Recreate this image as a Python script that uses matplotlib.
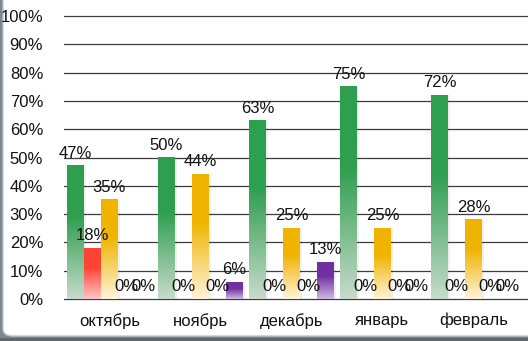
import matplotlib
matplotlib.use('Agg')
import matplotlib.pyplot as plt
import numpy as np
from matplotlib.colors import LinearSegmentedColormap
from matplotlib.patches import FancyBboxPatch, Rectangle

plt.rcParams['font.family'] = ['Liberation Sans', 'DejaVu Sans']

# data
months = ['октябрь', 'ноябрь', 'декабрь', 'январь', 'февраль']
green = [47, 50, 63, 75, 72]
red = [18, 0, 0, 0, 0]
yellow = [35, 44, 25, 25, 28]
empty = [0, 0, 0, 0, 0]
purple = [0, 6, 13, 0, 0]
y_ticks = [0, 10, 20, 30, 40, 50, 60, 70, 80, 90, 100]

# (top colour, bottom colour) for each series
series = [
    (green, '#2e9e4f', '#c8dbcb'),
    (red, '#ff4334', '#ffc6c6'),
    (yellow, '#f0b400', '#fff4da'),
    (empty, '#9dc3e6', '#e6f0fa'),
    (purple, '#7030a0', '#cfb8e3'),
]

W, H = 528, 341
fig = plt.figure(figsize=(W / 100, H / 100), dpi=100)
fig.patch.set_facecolor('#7d868c')

# white chart area with rounded corner, clipped by the figure edge
box = FancyBboxPatch((3 / W, 5 / H), 1.2, 1.2, boxstyle='round,pad=0,rounding_size=0.02',
                     transform=fig.transFigure, facecolor='white', edgecolor='#c4c8cc',
                     linewidth=1.0, zorder=-2)
fig.add_artist(box)
fig.add_artist(Rectangle((0, 0), 1, 3 / H, transform=fig.transFigure,
                         facecolor='#5f686e', edgecolor='none', zorder=-1))

px = 2.83  # pixels per percent
y0_pix = 299
ylo, yhi = -1, 102
bottom = (H - (y0_pix - ylo * px)) / H
top = (H - (y0_pix - yhi * px)) / H
ax = fig.add_axes([64 / W, bottom, 1 - 64 / W, top - bottom])
ax.set_zorder(1)
ax.set_facecolor('none')

n = len(series)
w = 17 / 91
x = np.arange(len(months))
fs = 12

grad = np.linspace(0, 1, 256).reshape(-1, 1)
for j, (vals, ctop, cbot) in enumerate(series):
    cmap = LinearSegmentedColormap.from_list('g%d' % j, [(0, cbot), (0.62, ctop), (1, ctop)])
    bars = ax.bar(x + (j - (n - 1) / 2) * w, vals, w, color='none', edgecolor='none', zorder=2)
    for b, v in zip(bars, vals):
        bx, bw, bh = b.get_x(), b.get_width(), b.get_height()
        if bh > 0:
            # soft shadow
            ax.bar(bx + bw / 2 + 0.012, bh, bw + 0.02, bottom=0, color='#000000', alpha=0.06,
                   edgecolor='none', zorder=1.5)
            ax.imshow(grad, extent=[bx, bx + bw, 0, bh], origin='lower', cmap=cmap,
                      aspect='auto', interpolation='bilinear', zorder=2)
        ax.annotate('%d%%' % v, (bx + bw / 2, bh), xytext=(0, 9), textcoords='offset points',
                    ha='center', va='center', fontsize=fs, color='#111111', zorder=4)

ax.set_xlim(-0.5, 4.6)
ax.set_ylim(ylo, yhi)
ax.set_yticks(y_ticks)
ax.set_yticklabels(['%d%%' % t for t in y_ticks])
ax.set_xticks(x)
ax.set_xticklabels(months)
ax.tick_params(axis='both', length=0, labelsize=fs, labelcolor='#111111')
ax.tick_params(axis='y', pad=15)
ax.tick_params(axis='x', pad=8)
ax.grid(axis='y', color='#3c3c3c', linewidth=0.9, zorder=0)
ax.set_axisbelow(True)
for s in ax.spines.values():
    s.set_visible(False)

fig.savefig('out.png', dpi=100, facecolor=fig.get_facecolor())
